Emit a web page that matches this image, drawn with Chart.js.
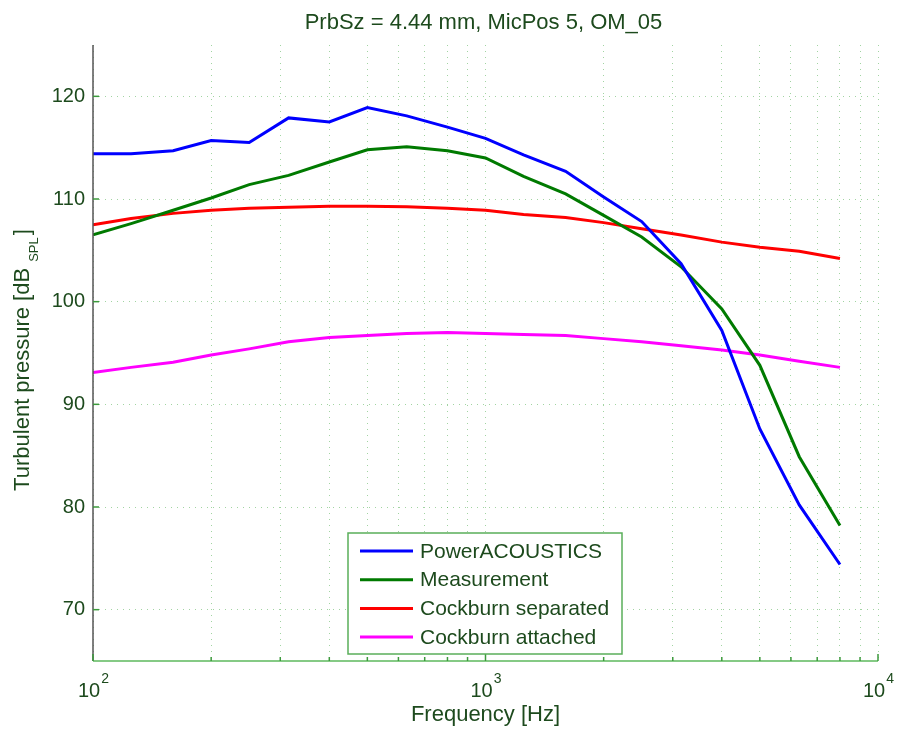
<!DOCTYPE html>
<html>
<head>
<meta charset="utf-8">
<script src="https://cdn.jsdelivr.net/npm/chart.js@4.4.0/dist/chart.umd.min.js"></script>
<style>
  html, body { margin: 0; padding: 0; background: #fff; }
</style>
</head>
<body>
<canvas id="chart" width="899" height="729"></canvas>
<script>
// ─── Data ────────────────────────────────────────
const freqs = [100, 125, 160, 200, 250, 315, 400, 500, 630, 800, 1000, 1250, 1600, 2000, 2500, 3150, 4000, 5000, 6300, 8000];
const powerAcoustics = [114.4, 114.4, 114.7, 115.7, 115.5, 117.9, 117.5, 118.9, 118.1, 117.0, 115.9, 114.3, 112.7, 110.2, 107.8, 103.7, 97.2, 87.6, 80.2, 74.4];
const measurement    = [106.5, 107.6, 108.9, 110.1, 111.4, 112.3, 113.6, 114.8, 115.1, 114.7, 114.0, 112.2, 110.5, 108.4, 106.3, 103.4, 99.3, 93.8, 84.9, 78.2];
const cockburnSep    = [107.5, 108.1, 108.6, 108.9, 109.1, 109.2, 109.3, 109.3, 109.25, 109.1, 108.9, 108.5, 108.2, 107.7, 107.1, 106.5, 105.8, 105.3, 104.9, 104.2];
const cockburnAtt    = [93.1, 93.6, 94.1, 94.8, 95.4, 96.1, 96.5, 96.7, 96.9, 97.0, 96.9, 96.8, 96.7, 96.4, 96.1, 95.7, 95.3, 94.8, 94.2, 93.6];

const seriesNames  = ['PowerACOUSTICS', 'Measurement', 'Cockburn separated', 'Cockburn attached'];
const seriesColors = ['#0000ff', '#007a00', '#ff0000', '#ff00ff'];
const yTicks = [70, 80, 90, 100, 110, 120];
const xDecades = [100, 1000, 10000];

const TITLE = 'PrbSz = 4.44 mm, MicPos 5, OM_05';
const TEXT_COLOR = '#1d4a1d';
const FONT = '"Liberation Sans", Arial, sans-serif';

// ─── Helpers ─────────────────────────────────────
function toPoints(ys) {
  return freqs.map((f, i) => ({ x: f, y: ys[i] }));
}

function minorTicks() {
  const out = [];
  for (let d = 100; d < 10000; d *= 10) {
    for (let k = 1; k < 10; k++) out.push(d * k);
  }
  out.push(10000);
  return out;
}

// ─── Custom drawing: title, labels, axes, legend ─
const decorPlugin = {
  id: 'decor',
  afterDraw(chart) {
    const { ctx, chartArea: a, scales } = chart;
    const xs = scales.x, ys = scales.y;
    ctx.save();

    // Title
    ctx.fillStyle = TEXT_COLOR;
    ctx.font = `22px ${FONT}`;
    ctx.textAlign = 'center';
    ctx.textBaseline = 'alphabetic';
    ctx.fillText(TITLE, (a.left + a.right) / 2 - 2, 29);

    // Axes lines
    ctx.lineWidth = 1.5;
    ctx.strokeStyle = '#555';
    ctx.beginPath();
    ctx.moveTo(a.left, a.top);
    ctx.lineTo(a.left, a.bottom);
    ctx.stroke();
    ctx.strokeStyle = '#5cb85c';
    ctx.beginPath();
    ctx.moveTo(a.left, a.bottom);
    ctx.lineTo(a.right, a.bottom);
    ctx.stroke();

    // Y tick marks
    ctx.strokeStyle = '#3c9a3c';
    yTicks.forEach(v => {
      const py = ys.getPixelForValue(v);
      ctx.beginPath();
      ctx.moveTo(a.left, py);
      ctx.lineTo(a.left + 6, py);
      ctx.stroke();
    });

    // X tick marks (major + minor)
    minorTicks().forEach(v => {
      const px = xs.getPixelForValue(v);
      const major = xDecades.includes(v);
      ctx.beginPath();
      ctx.moveTo(px, a.bottom);
      ctx.lineTo(px, a.bottom - (major ? 7 : 4));
      ctx.stroke();
    });

    // X decade labels 10^n
    ctx.fillStyle = TEXT_COLOR;
    ctx.textAlign = 'left';
    xDecades.forEach(v => {
      const px = xs.getPixelForValue(v);
      const exp = String(Math.round(Math.log10(v)));
      ctx.font = `20px ${FONT}`;
      const w = ctx.measureText('10').width;
      ctx.font = `14px ${FONT}`;
      const we = ctx.measureText(exp).width;
      const x0 = px - (w + we) / 2;
      ctx.font = `20px ${FONT}`;
      ctx.fillText('10', x0, a.bottom + 36);
      ctx.font = `14px ${FONT}`;
      ctx.fillText(exp, x0 + w + 1, a.bottom + 22);
    });

    // X axis label
    ctx.font = `22px ${FONT}`;
    ctx.textAlign = 'center';
    ctx.fillText('Frequency [Hz]', (a.left + a.right) / 2, a.bottom + 60);

    // Y axis label with subscript
    ctx.save();
    ctx.translate(29, 361);
    ctx.rotate(-Math.PI / 2);
    ctx.textAlign = 'left';
    const p1 = 'Turbulent pressure [dB ', p2 = 'SPL', p3 = ']';
    ctx.font = `22px ${FONT}`;
    const w1 = ctx.measureText(p1).width, w3 = ctx.measureText(p3).width;
    ctx.font = `13px ${FONT}`;
    const w2 = ctx.measureText(p2).width;
    const sx = -(w1 + w2 + w3) / 2;
    ctx.font = `22px ${FONT}`;
    ctx.fillText(p1, sx, 0);
    ctx.font = `13px ${FONT}`;
    ctx.fillText(p2, sx + w1, 9);
    ctx.font = `22px ${FONT}`;
    ctx.fillText(p3, sx + w1 + w2 + 2, 0);
    ctx.restore();

    // Legend box
    const lx = 348, ly = 533, lw = 274, lh = 121;
    ctx.fillStyle = '#fff';
    ctx.fillRect(lx, ly, lw, lh);
    ctx.lineWidth = 1.5;
    ctx.strokeStyle = '#5aae5a';
    ctx.strokeRect(lx, ly, lw, lh);
    chart.data.datasets.forEach((ds, i) => {
      const cy = ly + 18 + i * 28.7;
      ctx.strokeStyle = ds.borderColor;
      ctx.lineWidth = 3;
      ctx.beginPath();
      ctx.moveTo(lx + 12, cy);
      ctx.lineTo(lx + 65, cy);
      ctx.stroke();
      ctx.fillStyle = TEXT_COLOR;
      ctx.font = `21px ${FONT}`;
      ctx.textAlign = 'left';
      ctx.textBaseline = 'middle';
      ctx.fillText(ds.label, lx + 72, cy + 1);
    });

    ctx.restore();
  },
};

// ─── Chart ───────────────────────────────────────
const gridStyle = {
  color: 'rgba(70,170,70,0.5)',
  lineWidth: 1,
  drawTicks: false,
};

new Chart(document.getElementById('chart'), {
  type: 'line',
  data: {
    datasets: [powerAcoustics, measurement, cockburnSep, cockburnAtt].map((ys, i) => ({
      label: seriesNames[i],
      data: toPoints(ys),
      borderColor: seriesColors[i],
      backgroundColor: seriesColors[i],
      borderWidth: 3,
      pointRadius: 0,
      tension: 0,
      fill: false,
    })),
  },
  options: {
    responsive: false,
    animation: false,
    layout: { padding: { top: 45, right: 21, left: 0, bottom: 0 } },
    plugins: {
      legend: { display: false },
      tooltip: { enabled: false },
      title: { display: false },
    },
    scales: {
      x: {
        type: 'logarithmic',
        min: 100,
        max: 10000,
        afterBuildTicks: (s) => { s.ticks = minorTicks().map(v => ({ value: v })); },
        ticks: { display: false },
        grid: { ...gridStyle },
        border: { display: false, dash: [1, 5] },
        afterFit: (s) => { s.height = 68; },
      },
      y: {
        min: 65,
        max: 125,
        afterBuildTicks: (s) => { s.ticks = yTicks.map(v => ({ value: v })); },
        ticks: {
          color: TEXT_COLOR,
          font: { size: 20, family: FONT },
          padding: 8,
        },
        grid: { ...gridStyle },
        border: { display: false, dash: [1, 5] },
        afterFit: (s) => { s.width = 93; },
      },
    },
  },
  plugins: [decorPlugin],
});
</script>
</body>
</html>
